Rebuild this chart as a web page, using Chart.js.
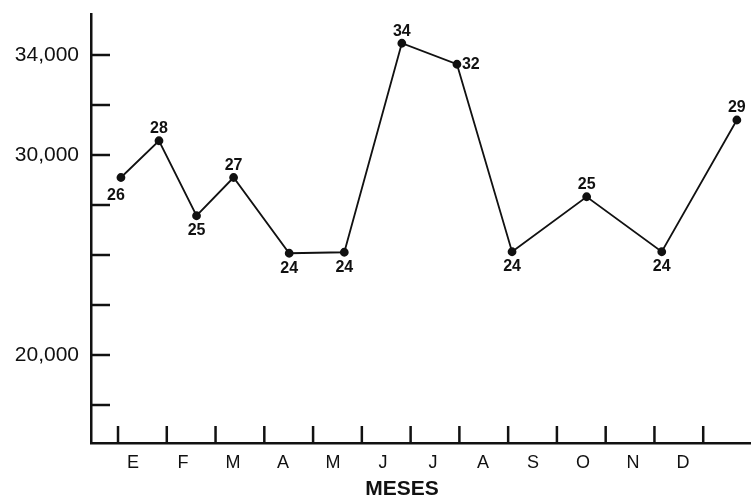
<!DOCTYPE html>
<html>
<head>
<meta charset="utf-8">
<script src="https://cdn.jsdelivr.net/npm/chart.js@4.4.1/dist/chart.umd.min.js"></script>
<style>
  body { margin: 0; background: #fff; }
  #wrap { width: 751px; height: 499px; }
</style>
</head>
<body>
<div id="wrap"><canvas id="myChart"></canvas></div>
<script>
const monthLabels = ['E', 'F', 'M', 'A', 'M', 'J', 'J', 'A', 'S', 'O', 'N', 'D'];
// where each point sits along the axis (in tick-mark units)
const xPos = [0.06, 0.84, 1.61, 2.37, 3.51, 4.64, 5.82, 6.95, 8.08, 9.61, 11.15, 12.69];
const yValues = [29100, 30570, 27570, 29100, 26070, 26110, 34470, 33630, 26130, 28330, 26130, 31400];
const pointLabels = ['26', '28', '25', '27', '24', '24', '34', '32', '24', '25', '24', '29'];
const yTickLabels = ['', '20,000', '', '', '', '30,000', '', '34,000'];

const labelSide = ['belowleft', 'above', 'below', 'above', 'below', 'below', 'above', 'right', 'below', 'above', 'below', 'above'];
const FONT = "'Liberation Sans', Arial, sans-serif";

const extras = {
  id: 'extras',
  afterDraw(chart) {
    const c = chart.ctx;
    const xs = chart.scales.x, ys = chart.scales.y;
    const area = chart.chartArea;
    c.save();
    c.strokeStyle = '#111';
    c.lineWidth = 2.5;
    // inward tick marks
    for (let i = 0; i <= 12; i++) {
      const px = xs.getPixelForValue(i);
      c.beginPath(); c.moveTo(px, area.bottom); c.lineTo(px, area.bottom - 17); c.stroke();
    }
    ys.ticks.forEach(t => {
      const py = ys.getPixelForValue(t.value);
      c.beginPath(); c.moveTo(area.left, py); c.lineTo(area.left + 19, py); c.stroke();
    });
    // point labels
    c.fillStyle = '#111';
    c.font = 'bold 16px ' + FONT;
    c.textBaseline = 'middle';
    const meta = chart.getDatasetMeta(0);
    meta.data.forEach((pt, i) => {
      let dx = 0, dy = 0;
      c.textAlign = 'center';
      if (labelSide[i] === 'above') dy = -12;
      else if (labelSide[i] === 'below') dy = 15;
      else if (labelSide[i] === 'belowleft') { dx = -5; dy = 18; }
      else if (labelSide[i] === 'right') { dx = 5; c.textAlign = 'left'; }
      c.fillText(pointLabels[i], pt.x + dx, pt.y + dy);
    });
    // axis title
    c.font = 'bold 21px ' + FONT;
    c.textAlign = 'center';
    c.fillText('MESES', 402, 489);
    c.restore();
  }
};

const ctx = document.getElementById('myChart').getContext('2d');
const myChart = new Chart(ctx, {
  type: 'line',
  data: {
    datasets: [{
      data: xPos.map((x, i) => ({ x: x, y: yValues[i] })),
      borderColor: '#111',
      borderWidth: 1.8,
      pointBackgroundColor: '#111',
      pointBorderColor: '#111',
      pointRadius: 3.5,
      tension: 0,
      clip: false
    }]
  },
  options: {
    responsive: true,
    maintainAspectRatio: false,
    animation: false,
    events: [],
    layout: { autoPadding: false, padding: { top: 14, right: 0, left: 0, bottom: 0 } },
    plugins: { legend: { display: false }, tooltip: { enabled: false } },
    scales: {
      x: {
        type: 'linear',
        position: 'bottom',
        min: -0.554,
        max: 12.98,
        grid: { display: false },
        border: { display: true, color: '#111', width: 2.5 },
        ticks: { display: false },
        afterFit(s) { s.height = 0; }
      },
      x2: {
        type: 'linear',
        position: 'bottom',
        min: -0.84,
        max: 12.36,
        grid: { display: false, drawTicks: false },
        border: { display: false },
        afterBuildTicks(s) { s.ticks = monthLabels.map((m, i) => ({ value: i })); },
        ticks: {
          padding: 9,
          color: '#111',
          font: { family: FONT, size: 18 },
          callback: (v) => monthLabels[v],
          maxRotation: 0,
          autoSkip: false
        },
        afterFit(s) { s.height = 56; s.paddingLeft = 0; s.paddingRight = 0; }
      },
      y: {
        type: 'linear',
        min: 18480,
        max: 35640,
        grid: { display: false, drawTicks: false },
        border: { display: true, color: '#111', width: 2.5 },
        afterBuildTicks(s) {
          s.ticks = yTickLabels.map((l, i) => ({ value: 20000 + i * 2000 }));
        },
        ticks: {
          padding: 12,
          color: '#111',
          font: { family: FONT, size: 21 },
          callback: (v, i) => yTickLabels[i]
        },
        afterFit(s) { s.width = 91; s.paddingTop = 0; s.paddingBottom = 0; }
      }
    }
  },
  plugins: [extras]
});
</script>
</body>
</html>
